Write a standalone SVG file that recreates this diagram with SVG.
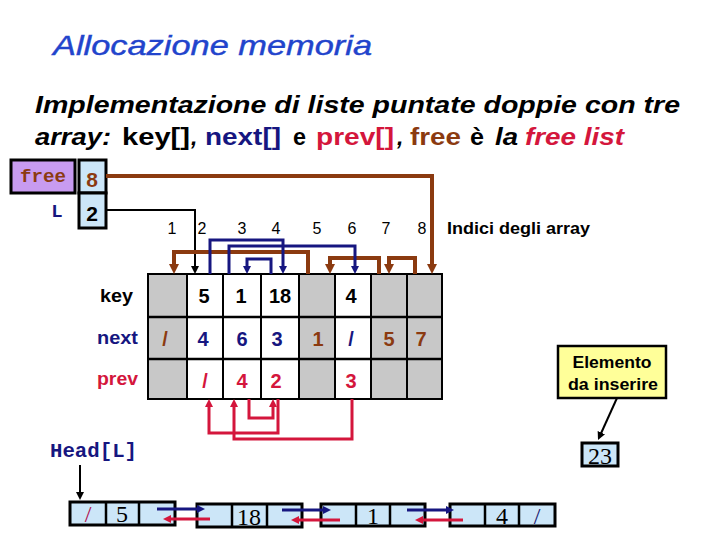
<svg xmlns="http://www.w3.org/2000/svg" width="720" height="540" viewBox="0 0 720 540">
<style>
.sans{font-family:"Liberation Sans",Arial,sans-serif}
.mono{font-family:"Liberation Mono","Courier New",monospace;font-weight:bold}
.serif{font-family:"Liberation Serif","Times New Roman",serif}
.b{font-weight:bold}
.it{font-style:italic}
.navy{fill:#161680}
.red{fill:#d4163c}
.brown{fill:#8b3a10}
.cell{stroke:#000;stroke-width:2}
.gray{fill:#c8c8c8}
.white{fill:#fff}
.val{font-family:"Liberation Sans",Arial,sans-serif;font-weight:bold;font-size:20px;text-anchor:middle}
.idx{font-family:"Liberation Sans",Arial,sans-serif;font-size:16px;text-anchor:middle}
.nodebox{fill:#cce6f8;stroke:#000;stroke-width:3}
.div{stroke:#000;stroke-width:2.5}
.ntext{font-family:"Liberation Serif","Times New Roman",serif;font-size:24px;text-anchor:middle}
.cb{fill:none;stroke:#8b3a10;stroke-width:4}
.cn{fill:none;stroke:#161680;stroke-width:3}
.cr{fill:none;stroke:#d4163c;stroke-width:3}
.ck{fill:none;stroke:#000;stroke-width:2}
</style>
<defs>
<marker id="aB" markerUnits="userSpaceOnUse" viewBox="0 0 10 10" markerWidth="10" markerHeight="10" refX="2" refY="5" orient="auto"><path d="M0,0 L10,5 L0,10 z" fill="#8b3a10"/></marker>
<marker id="aN" markerUnits="userSpaceOnUse" viewBox="0 0 8 8" markerWidth="8" markerHeight="8" refX="2" refY="4" orient="auto"><path d="M0,0 L8,4 L0,8 z" fill="#161680"/></marker>
<marker id="aR" markerUnits="userSpaceOnUse" viewBox="0 0 8 8" markerWidth="8" markerHeight="8" refX="2" refY="4" orient="auto"><path d="M0,0 L8,4 L0,8 z" fill="#d4163c"/></marker>
<marker id="aK" markerUnits="userSpaceOnUse" viewBox="0 0 8 8" markerWidth="8" markerHeight="8" refX="2" refY="4" orient="auto"><path d="M0,0 L8,4 L0,8 z" fill="#000"/></marker>
</defs>
<rect width="720" height="540" fill="#fff"/>

<g id="title">
<text x="53" y="55" class="sans it" font-size="28" fill="#2244cc" stroke="#2244cc" stroke-width="0.4" textLength="319" lengthAdjust="spacingAndGlyphs">Allocazione memoria</text>
<text x="35" y="113" class="sans b it" font-size="23" fill="#000" textLength="645" lengthAdjust="spacingAndGlyphs">Implementazione di liste puntate doppie con tre</text>
<text x="35" y="145" class="sans b it" font-size="23" textLength="76" lengthAdjust="spacingAndGlyphs">array:</text>
<text x="122" y="145" class="sans b" font-size="23" textLength="68" lengthAdjust="spacingAndGlyphs">key[]</text>
<text x="191" y="145" class="sans b it" font-size="23">,</text>
<text x="205" y="145" class="sans b navy" font-size="23" textLength="76" lengthAdjust="spacingAndGlyphs">next[]</text>
<text x="293" y="145" class="sans b" font-size="23" textLength="13" lengthAdjust="spacingAndGlyphs">e</text>
<text x="316" y="145" class="sans b red" font-size="23" textLength="78" lengthAdjust="spacingAndGlyphs">prev[]</text>
<text x="397" y="145" class="sans b it" font-size="23">,</text>
<text x="410" y="145" class="sans b brown" font-size="23" textLength="51" lengthAdjust="spacingAndGlyphs">free</text>
<text x="470" y="145" class="sans b" font-size="23" textLength="14" lengthAdjust="spacingAndGlyphs">è</text>
<text x="495" y="145" class="sans b it" font-size="23" textLength="23" lengthAdjust="spacingAndGlyphs">la</text>
<text x="525" y="145" class="sans b it red" font-size="23" textLength="99" lengthAdjust="spacingAndGlyphs">free list</text>
</g>

<g id="free">
<rect x="11" y="160" width="64" height="33" fill="#c89bf0" stroke="#000" stroke-width="3"/>
<text x="20" y="182" class="mono brown" font-size="19" textLength="46" lengthAdjust="spacingAndGlyphs">free</text>
<rect x="79" y="160" width="27" height="33" fill="#cce6f8" stroke="#000" stroke-width="3"/>
<text x="92" y="187" class="sans b brown" font-size="21" text-anchor="middle">8</text>
</g>
<g id="L">
<text x="57" y="217" class="mono navy" font-size="19" text-anchor="middle">L</text>
<rect x="79" y="193" width="27" height="35" fill="#cce6f8" stroke="#000" stroke-width="3"/>
<text x="92" y="221" class="sans b" font-size="21" text-anchor="middle">2</text>
</g>

<g id="indices">
<text x="172" y="234" class="idx">1</text>
<text x="202" y="234" class="idx">2</text>
<text x="242" y="234" class="idx">3</text>
<text x="276" y="234" class="idx">4</text>
<text x="317" y="234" class="idx">5</text>
<text x="352" y="234" class="idx">6</text>
<text x="386" y="234" class="idx">7</text>
<text x="422" y="234" class="idx">8</text>
<text x="447" y="234" class="sans b" font-size="17" textLength="143" lengthAdjust="spacingAndGlyphs">Indici degli array</text>
</g>

<g id="table">
<text x="100" y="302" class="sans b" font-size="19" textLength="33" lengthAdjust="spacingAndGlyphs">key</text>
<text x="97" y="344" class="sans b navy" font-size="19" textLength="41" lengthAdjust="spacingAndGlyphs">next</text>
<text x="97" y="385" class="sans b red" font-size="19" textLength="41" lengthAdjust="spacingAndGlyphs">prev</text>
<rect x="148" y="274" width="39" height="125" class="cell gray"/>
<rect x="187" y="274" width="36" height="125" class="cell white"/>
<rect x="223" y="274" width="38" height="125" class="cell white"/>
<rect x="261" y="274" width="38" height="125" class="cell white"/>
<rect x="299" y="274" width="36" height="125" class="cell gray"/>
<rect x="335" y="274" width="36" height="125" class="cell white"/>
<rect x="371" y="274" width="36" height="125" class="cell gray"/>
<rect x="407" y="274" width="35" height="125" class="cell gray"/>
<line x1="148" y1="317" x2="442" y2="317" stroke="#000" stroke-width="2.5"/>
<line x1="148" y1="359" x2="442" y2="359" stroke="#000" stroke-width="2.5"/>
<text x="204" y="303" class="val">5</text>
<text x="241" y="303" class="val">1</text>
<text x="280" y="303" class="val">18</text>
<text x="351" y="303" class="val">4</text>
<text x="165" y="346" class="val brown">/</text>
<text x="203" y="346" class="val navy">4</text>
<text x="242" y="346" class="val navy">6</text>
<text x="277" y="346" class="val navy">3</text>
<text x="318" y="346" class="val brown">1</text>
<text x="351" y="346" class="val navy">/</text>
<text x="389" y="346" class="val brown">5</text>
<text x="421" y="346" class="val brown">7</text>
<text x="205" y="388" class="val red">/</text>
<text x="242" y="388" class="val red">4</text>
<text x="276" y="388" class="val red">2</text>
<text x="351" y="388" class="val red">3</text>
</g>

<g id="head">
<text x="50" y="457" class="mono navy" font-size="20" textLength="87" lengthAdjust="spacingAndGlyphs">Head[L]</text>
</g>

<g id="node1">
<rect x="70" y="502" width="105" height="23" class="nodebox"/>
<line x1="106" y1="502" x2="106" y2="525" class="div"/>
<line x1="139" y1="502" x2="139" y2="525" class="div"/>
<text x="88" y="522" class="ntext" fill="#b01050">/</text>
<text x="122" y="522" class="ntext">5</text>
</g>
<g id="node2">
<rect x="197" y="504" width="105" height="23" class="nodebox"/>
<line x1="232" y1="504" x2="232" y2="527" class="div"/>
<line x1="267" y1="504" x2="267" y2="527" class="div"/>
<text x="249" y="525" class="ntext">18</text>
</g>
<g id="node3">
<rect x="321" y="504" width="104" height="22" class="nodebox"/>
<line x1="356" y1="504" x2="356" y2="526" class="div"/>
<line x1="390" y1="504" x2="390" y2="526" class="div"/>
<text x="373" y="524" class="ntext">1</text>
</g>
<g id="node4">
<rect x="450" y="504" width="105" height="22" class="nodebox"/>
<line x1="485" y1="504" x2="485" y2="526" class="div"/>
<line x1="519" y1="504" x2="519" y2="526" class="div"/>
<text x="502" y="524" class="ntext">4</text>
<text x="537" y="524" class="ntext" fill="#1a1a70">/</text>
</g>

<g id="newnode">
<rect x="582" y="443" width="36" height="23" class="nodebox"/>
<text x="600" y="464" class="ntext">23</text>
</g>

<g id="callout">
<rect x="558" y="346" width="108" height="52" fill="#ffff99" stroke="#000" stroke-width="2.5"/>
<text x="612" y="368" class="sans b" font-size="17" text-anchor="middle" textLength="79" lengthAdjust="spacingAndGlyphs">Elemento</text>
<text x="613" y="390" class="sans b" font-size="17" text-anchor="middle" textLength="90" lengthAdjust="spacingAndGlyphs">da inserire</text>
</g>

<g id="connectors">
<path d="M106,176 H432 V266" class="cb" marker-end="url(#aB)"/>
<path d="M106,210 H195 V268" class="ck" marker-end="url(#aK)"/>
<path d="M308,274 V252 H174 V266" class="cb" marker-end="url(#aB)"/>
<path d="M379,274 V258 H330 V266" class="cb" marker-end="url(#aB)"/>
<path d="M415,274 V258 H389 V266" class="cb" marker-end="url(#aB)"/>
<path d="M210,274 V240 H283 V268" class="cn" marker-end="url(#aN)"/>
<path d="M229,274 V246 H355 V268" class="cn" marker-end="url(#aN)"/>
<path d="M271,274 V259 H247 V268" class="cn" marker-end="url(#aN)"/>
<path d="M278,399 V433 H209 V405" class="cr" marker-end="url(#aR)"/>
<path d="M249,399 V418 H273 V405" class="cr" marker-end="url(#aR)"/>
<path d="M352,399 V439 H234 V405" class="cr" marker-end="url(#aR)"/>
<path d="M80,465 V494" class="ck" marker-end="url(#aK)"/>
<path d="M617,398 L600.5,434.5" class="ck" marker-end="url(#aK)"/>
<path d="M157,509 H199" class="cn" marker-end="url(#aN)"/>
<path d="M210,519 H169" class="cr" marker-end="url(#aR)"/>
<path d="M282,510 H325" class="cn" marker-end="url(#aN)"/>
<path d="M340,520 H297" class="cr" marker-end="url(#aR)"/>
<path d="M407,510 H448" class="cn" marker-end="url(#aN)"/>
<path d="M463,520 H421" class="cr" marker-end="url(#aR)"/>
</g>
</svg>
